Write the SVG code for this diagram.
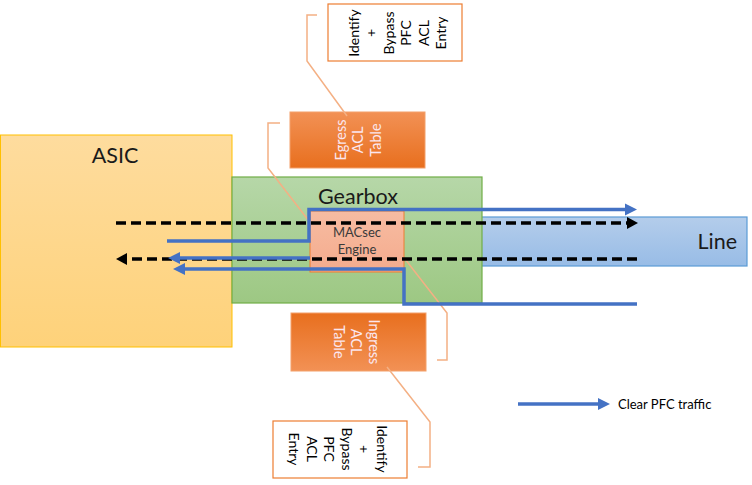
<svg xmlns="http://www.w3.org/2000/svg" width="752" height="485" viewBox="0 0 752 485">
<defs>
<linearGradient id="gAsic" x1="0" y1="0" x2="0" y2="1"><stop offset="0" stop-color="#FEDC9E"/><stop offset="1" stop-color="#FED27A"/></linearGradient>
<linearGradient id="gGear" x1="0" y1="0" x2="0" y2="1"><stop offset="0" stop-color="#B6D7A8"/><stop offset="1" stop-color="#9DC883"/></linearGradient>
<linearGradient id="gLine" x1="0" y1="0" x2="0" y2="1"><stop offset="0" stop-color="#B4CDEB"/><stop offset="1" stop-color="#98BCE6"/></linearGradient>
<linearGradient id="gMac" x1="0" y1="0" x2="0" y2="1"><stop offset="0" stop-color="#F7BCA2"/><stop offset="1" stop-color="#F4AB8D"/></linearGradient>
<linearGradient id="gEg" x1="0" y1="0" x2="0" y2="1"><stop offset="0" stop-color="#F29155"/><stop offset="1" stop-color="#E86F1E"/></linearGradient>
<linearGradient id="gIn" x1="0" y1="0" x2="0" y2="1"><stop offset="0" stop-color="#E86F1E"/><stop offset="1" stop-color="#F29155"/></linearGradient>
<marker id="aBlue" markerUnits="userSpaceOnUse" markerWidth="14" markerHeight="14" viewBox="0 -7 14 14" refX="0" refY="0" orient="auto"><path d="M0,-6 L12,0 L0,6 z" fill="#4472C4"/></marker>
<marker id="aBlack" markerUnits="userSpaceOnUse" markerWidth="14" markerHeight="14" viewBox="0 -7 14 14" refX="0" refY="0" orient="auto"><path d="M0,-6 L11,0 L0,6 z" fill="#000"/></marker>
</defs>
<style>
.big{font-family:Lato,"Liberation Sans",sans-serif;font-size:21.5px;fill:#1A1A1A}
.mac{font-family:Lato,"Liberation Sans",sans-serif;font-size:13px;fill:#3A3A3A;text-anchor:middle}
.tbl{font-family:Lato,"Liberation Sans",sans-serif;font-size:14.5px;fill:#FBE6EE;text-anchor:middle;dominant-baseline:central}
.cal{font-family:Lato,"Liberation Sans",sans-serif;font-size:14px;fill:#000;text-anchor:middle;dominant-baseline:central}
.leg{font-family:Lato,"Liberation Sans",sans-serif;font-size:13px;fill:#000}
.lead{fill:none;stroke:#F4B084;stroke-width:1.5}
.blue{fill:none;stroke:#4472C4;stroke-width:3.5}
.dash{fill:none;stroke:#000;stroke-width:3.5;stroke-dasharray:10 5}
.callbox{fill:#fff;stroke:#ED7D31;stroke-width:1.2}
</style>
<g id="asic"><rect x="0.5" y="135" width="231.5" height="212" fill="url(#gAsic)" stroke="#FFC000" stroke-width="1"/><text class="big" x="115" y="162.5" text-anchor="middle">ASIC</text></g>
<g id="line"><rect x="470" y="217" width="277" height="49" fill="url(#gLine)" stroke="#5B9BD5" stroke-width="1.2"/><text class="big" x="737" y="249" text-anchor="end">Line</text></g>
<g id="gearbox"><rect x="232" y="177" width="250" height="126" fill="url(#gGear)" stroke="#70AD47" stroke-width="1.2"/><text class="big" x="358" y="203.5" text-anchor="middle">Gearbox</text></g>
<g id="macsec"><rect x="310" y="211" width="94" height="61" fill="url(#gMac)" stroke="#ED7D31" stroke-width="1"/><text class="mac" x="357" y="237">MACsec</text><text class="mac" x="357" y="254">Engine</text></g>
<g id="egress-acl"><rect x="290" y="112" width="135" height="56" fill="url(#gEg)" stroke="#F3A06A" stroke-width="1"/>
<text class="tbl" transform="translate(340,140) rotate(-90)">Egress</text>
<text class="tbl" transform="translate(357.5,140) rotate(-90)">ACL</text>
<text class="tbl" transform="translate(375,140) rotate(-90)">Table</text></g>
<g id="ingress-acl"><rect x="291" y="313" width="135" height="58" fill="url(#gIn)" stroke="#F3A06A" stroke-width="1"/>
<text class="tbl" transform="translate(374,342) rotate(90)">Ingress</text>
<text class="tbl" transform="translate(356.5,342) rotate(90)">ACL</text>
<text class="tbl" transform="translate(339,342) rotate(90)">Table</text></g>
<g id="callout-top"><rect class="callbox" x="328" y="4" width="134" height="57"/>
<text class="cal" transform="translate(353,33) rotate(-90)">Identify</text>
<text class="cal" transform="translate(370.5,33) rotate(-90)">+</text>
<text class="cal" transform="translate(388,33) rotate(-90)">Bypass</text>
<text class="cal" transform="translate(405.5,33) rotate(-90)">PFC</text>
<text class="cal" transform="translate(423,33) rotate(-90)">ACL</text>
<text class="cal" transform="translate(440.5,33) rotate(-90)">Entry</text></g>
<g id="callout-bottom"><rect class="callbox" x="273" y="421" width="134" height="57"/>
<text class="cal" transform="translate(382,449) rotate(90)">Identify</text>
<text class="cal" transform="translate(364.5,449) rotate(90)">+</text>
<text class="cal" transform="translate(347,449) rotate(90)">Bypass</text>
<text class="cal" transform="translate(329.5,449) rotate(90)">PFC</text>
<text class="cal" transform="translate(312,449) rotate(90)">ACL</text>
<text class="cal" transform="translate(294.5,449) rotate(90)">Entry</text></g>
<g id="connectors">
<polyline class="lead" points="317,15 307,15 307,61 347,116"/>
<polyline class="lead" points="280,123 268,123 268,168 309,221"/>
<polyline class="lead" points="405,259 447,313 447,360 437,360"/>
<polyline class="lead" points="387,367 430,422 430,467 418,467"/>
<path class="dash" d="M116,223 H627" marker-end="url(#aBlack)"/>
<path class="dash" d="M637,259 H127" marker-end="url(#aBlack)"/>
<path class="blue" d="M167,241 H309 V209.5 H625" marker-end="url(#aBlue)"/>
<path class="blue" d="M310,258 H180" marker-end="url(#aBlue)"/>
<path class="blue" d="M637,304 H404 V269 H185" marker-end="url(#aBlue)"/>
</g>
<g id="legend"><path class="blue" d="M518,404 H598" marker-end="url(#aBlue)"/><text class="leg" x="618" y="408.5">Clear PFC traffic</text></g>
</svg>
